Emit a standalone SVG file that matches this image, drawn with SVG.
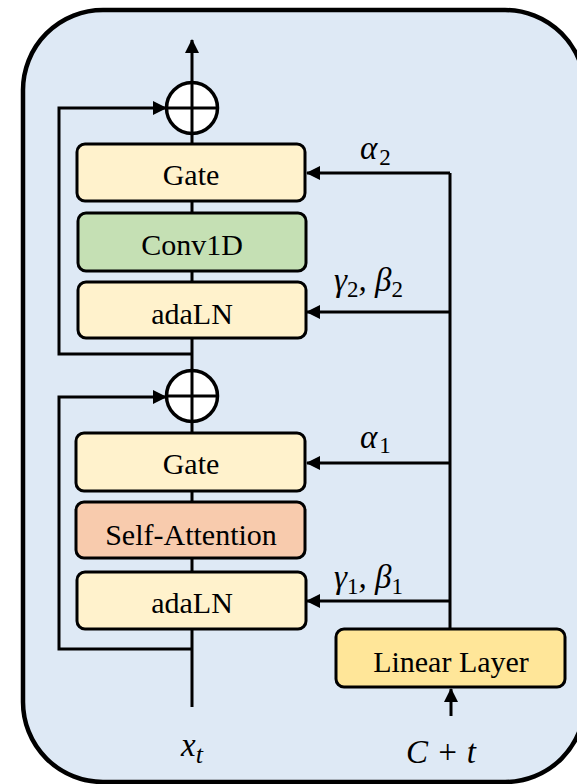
<svg xmlns="http://www.w3.org/2000/svg" width="577" height="784" viewBox="0 0 577 784">
  <style>
    .frame { fill: #DEE9F5; stroke: #000; stroke-width: 4.5; }
    .box { stroke: #000; stroke-width: 3; }
    .pale { fill: #FFF2CC; }
    .conv { fill: #C5E0B4; }
    .attn { fill: #F8CBAD; }
    .lin { fill: #FFE699; }
    .wire { fill: none; stroke: #000; stroke-width: 3; }
    .sum { fill: #fff; stroke: #000; stroke-width: 3.5; }
    .label { font-family: "Liberation Serif", "Times New Roman", serif; font-size: 30px; fill: #000; text-anchor: middle; }
    .math { font-family: "Liberation Serif", "Times New Roman", serif; font-style: italic; font-size: 33px; fill: #000; }
    .sub { font-style: normal; font-size: 23px; }
  </style>
  <defs>
    <marker id="head" viewBox="0 0 14 14" refX="13" refY="7" markerWidth="14" markerHeight="14" markerUnits="userSpaceOnUse" orient="auto">
      <path d="M0,0 L14,7 L0,14 Z" fill="#000"/>
    </marker>
  </defs>

  <!-- block frame -->
  <rect class="frame" x="23" y="10" width="562" height="772" rx="80" ry="80"/>

  <!-- connectors -->
  <g id="connectors">
    <!-- main residual stream -->
    <path class="wire" d="M192,707 V40" marker-end="url(#head)"/>
    <!-- skip connections -->
    <path class="wire" d="M192,649 H59 V397 H166" marker-end="url(#head)"/>
    <path class="wire" d="M192,354 H59 V108 H166" marker-end="url(#head)"/>
    <!-- conditioning bus -->
    <path class="wire" d="M450,629 V173"/>
    <path class="wire" d="M450,173 H307" marker-end="url(#head)"/>
    <path class="wire" d="M450,312 H307" marker-end="url(#head)"/>
    <path class="wire" d="M450,463 H307" marker-end="url(#head)"/>
    <path class="wire" d="M450,601 H307" marker-end="url(#head)"/>
    <path class="wire" d="M451,716 V689" marker-end="url(#head)"/>
  </g>

  <!-- upper sub-block -->
  <g id="add2">
    <circle class="sum" cx="192" cy="108" r="25.5"/>
    <path class="wire" d="M192,82.5 V133.5 M166.5,108 H217.5"/>
  </g>
  <g id="gate2">
    <rect class="box pale" x="77" y="144" width="228" height="57" rx="8"/>
    <text class="label" x="191" y="185">Gate</text>
  </g>
  <g id="conv1d">
    <rect class="box conv" x="78" y="213" width="228" height="58" rx="8"/>
    <text class="label" x="192" y="255">Conv1D</text>
  </g>
  <g id="adaln2">
    <rect class="box pale" x="78" y="282" width="228" height="56" rx="8"/>
    <text class="label" x="192" y="324">adaLN</text>
  </g>

  <!-- lower sub-block -->
  <g id="add1">
    <circle class="sum" cx="192" cy="396" r="25.5"/>
    <path class="wire" d="M192,370.5 V421.5 M166.5,396 H217.5"/>
  </g>
  <g id="gate1">
    <rect class="box pale" x="76" y="433" width="229" height="58" rx="8"/>
    <text class="label" x="191" y="474">Gate</text>
  </g>
  <g id="attention">
    <rect class="box attn" x="76" y="502" width="229" height="56" rx="8"/>
    <text class="label" x="191" y="545">Self-Attention</text>
  </g>
  <g id="adaln1">
    <rect class="box pale" x="77" y="572" width="229" height="57" rx="8"/>
    <text class="label" x="192" y="613">adaLN</text>
  </g>

  <g id="linear">
    <rect class="box lin" x="336" y="629" width="229" height="58" rx="8"/>
    <text class="label" x="451" y="672">Linear Layer</text>
  </g>

  <!-- modulation parameters -->
  <g id="labels">
    <text class="math" x="360" y="159">α<tspan class="sub" dx="2" dy="6">2</tspan></text>
    <text class="math" x="334" y="291">γ<tspan class="sub" dy="6">2</tspan><tspan dy="-6">, β</tspan><tspan class="sub" dy="6">2</tspan></text>
    <text class="math" x="360" y="448">α<tspan class="sub" dx="2" dy="5">1</tspan></text>
    <text class="math" x="334" y="588">γ<tspan class="sub" dy="6">1</tspan><tspan dy="-6">, β</tspan><tspan class="sub" dy="6">1</tspan></text>
    <text class="math" x="181" y="756">x<tspan dy="7" font-size="26">t</tspan></text>
    <text class="math" x="406" y="763">C + t</text>
  </g>
</svg>
